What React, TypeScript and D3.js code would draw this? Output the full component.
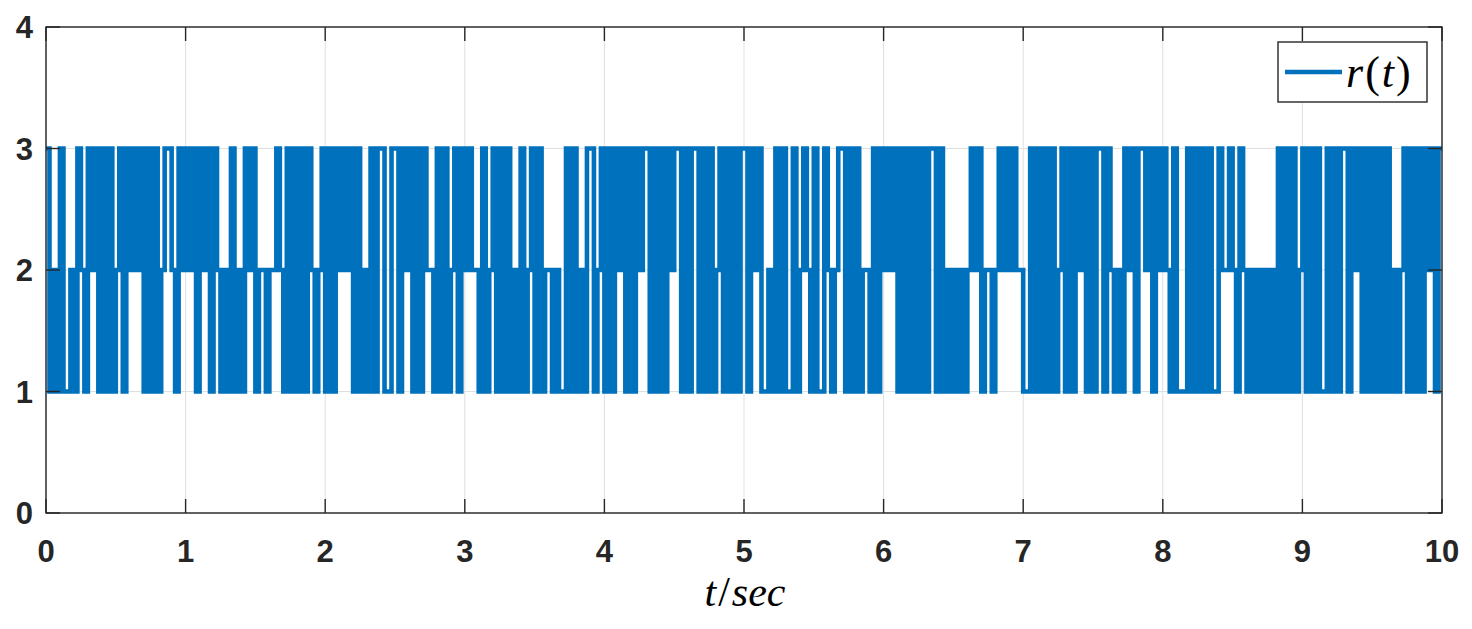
import React from "react";
import * as d3 from "d3";

// sample period (s) of the piecewise-constant signal r(t)
const DT = 0.025;

// r(t) values, one per 0.025 s sample, grouped by second
const rSec0 = [3,1,2,1,3,1,1,2,1,3, 2,1,3,2,3,1,3,1,3,1, 2,3,1,3,2,3,2,3,1,3, 1,3,1,2,3,3,2,1,3,2];
const rSec1 = [3,2,3,1,3,2,3,1,3,2, 1,2,1,3,1,2,1,3,2,3, 1,2,2,1,2,2,3,2,1,3, 1,3,1,3,1,3,2,1,2,3];
const rSec2 = [1,3,1,3,2,3,2,3,1,3, 1,2,1,3,1,3,3,1,1,3, 3,1,3,2,3,1,3,1,3,2, 2,1,3,1,3,1,2,3,1,3];
const rSec3 = [2,3,2,2,1,3,1,2,3,1, 3,1,3,1,2,1,3,1,2,3, 1,3,1,2,2,1,2,1,1,3, 1,3,1,2,1,3,3,1,2,3];
const rSec4 = [1,3,1,3,2,3,1,3,1,3, 2,3,3,1,3,1,3,1,3,2, 3,3,1,3,1,3,3,1,3,1, 3,1,2,3,1,3,1,3,1,3];
const rSec5 = [3,1,3,2,3,1,1,2,1,3, 1,3,1,1,3,1,2,3,2,1, 3,1,1,3,2,1,2,3,3,1, 3,1,3,1,2,2,1,3,1,3];
const rSec6 = [2,3,2,3,1,3,1,3,1,3, 1,3,1,3,3,1,3,1,2,1, 2,1,2,1,2,3,2,3,1,2, 2,1,2,3,2,3,2,3,2,2];
const rSec7 = [1,1,3,1,3,1,3,1,3,1, 2,3,1,3,1,3,2,3,1,3, 1,3,3,1,3,2,1,2,1,3, 2,3,1,3,3,2,3,1,3,2];
const rSec8 = [3,2,1,3,1,1,1,3,1,3, 1,3,1,3,1,1,3,2,2,3, 2,1,3,2,1,2,1,2,1,2, 1,2,1,3,1,3,1,3,1,2];
const rSec9 = [3,1,3,1,3,1,1,3,1,3, 1,3,3,1,3,2,3,1,3,1, 3,1,3,1,3,1,2,1,2,3, 1,3,1,3,1,3,2,3,1,3];

const xTicks = [0, 1, 2, 3, 4, 5, 6, 7, 8, 9, 10];
const yTicks = [0, 1, 2, 3, 4];
const xDomain = [0, 10];
const yDomain = [0, 4];

const BLUE = "#0072BD";
const AXIS = "#262626";
const GRID = "#dfdfdf";

export default function App() {
  const W = 1472;
  const H = 629;
  const left = 46, right = 1442, top = 27, bottom = 513;
  const x = d3.scaleLinear().domain(xDomain).range([left, right]);
  const y = d3.scaleLinear().domain(yDomain).range([bottom, top]);

  const values = [...rSec0, ...rSec1, ...rSec2, ...rSec3, ...rSec4, ...rSec5, ...rSec6, ...rSec7, ...rSec8, ...rSec9];
  const pts: [number, number][] = values.map((v, i) => [i * DT, v]);
  pts.push([xDomain[1], values[values.length - 1]]);
  const line = d3
    .line<[number, number]>()
    .x((d) => x(d[0]))
    .y((d) => y(d[1]))
    .curve(d3.curveStepAfter);

  const tickLen = 14;
  const tickFont = "'Liberation Sans', Arial, Helvetica, sans-serif";
  const mathFont = "'Liberation Serif', 'Times New Roman', serif";

  return (
    <svg
      width={W}
      height={H}
      viewBox={`0 0 ${W} ${H}`}
      style={{ position: "absolute", left: 0, top: 0, background: "#fff" }}
    >
      <defs>
        <clipPath id="plotClip">
          <rect x={left} y={top} width={right - left} height={bottom - top} />
        </clipPath>
      </defs>
      <rect x={0} y={0} width={W} height={H} fill="#fff" />
      {/* grid */}
      <g stroke={GRID} strokeWidth={1}>
        {xTicks.map((t) => (
          <line key={"gx" + t} x1={x(t)} x2={x(t)} y1={top} y2={bottom} />
        ))}
        {yTicks.map((t) => (
          <line key={"gy" + t} x1={left} x2={right} y1={y(t)} y2={y(t)} />
        ))}
      </g>
      {/* data */}
      <path
        d={line(pts) || ""}
        fill="none"
        stroke={BLUE}
        strokeWidth={4.6}
        strokeLinejoin="miter"
        clipPath="url(#plotClip)"
      />
      {/* axes box */}
      <rect x={left} y={top} width={right - left} height={bottom - top} fill="none" stroke={AXIS} strokeWidth={1.4} />
      {/* ticks */}
      <g stroke={AXIS} strokeWidth={1.4}>
        {xTicks.map((t) => (
          <g key={"tx" + t}>
            <line x1={x(t)} x2={x(t)} y1={bottom} y2={bottom - tickLen} />
            <line x1={x(t)} x2={x(t)} y1={top} y2={top + tickLen} />
          </g>
        ))}
        {yTicks.map((t) => (
          <g key={"ty" + t}>
            <line x1={left} x2={left + tickLen} y1={y(t)} y2={y(t)} />
            <line x1={right} x2={right - tickLen} y1={y(t)} y2={y(t)} />
          </g>
        ))}
      </g>
      {/* tick labels */}
      <g fill={AXIS} fontFamily={tickFont} fontWeight="bold" fontSize={31}>
        {xTicks.map((t) => (
          <text key={"lx" + t} x={x(t)} y={562} textAnchor="middle">
            {t}
          </text>
        ))}
        {yTicks.map((t) => (
          <text key={"ly" + t} x={left - 13} y={y(t) + 11} textAnchor="end">
            {t}
          </text>
        ))}
      </g>
      {/* x label */}
      <text x={745} y={606} textAnchor="middle" fontFamily={mathFont} fontSize={42} fill="#000">
        <tspan fontStyle="italic">t</tspan>
        <tspan dx={2}>/</tspan>
        <tspan fontStyle="italic" dx={2}>sec</tspan>
      </text>
      {/* legend */}
      <rect x={1278} y={42} width={149} height={60} fill="#fff" stroke={AXIS} strokeWidth={1.4} />
      <line x1={1285} x2={1342} y1={72} y2={72} stroke={BLUE} strokeWidth={4.6} />
      <text x={1346} y={87} fontFamily={mathFont} fontSize={44} fill="#000">
        <tspan fontStyle="italic">r</tspan>
        <tspan dx={2}>(</tspan>
        <tspan fontStyle="italic" dx={2}>t</tspan>
        <tspan dx={2}>)</tspan>
      </text>
    </svg>
  );
}
